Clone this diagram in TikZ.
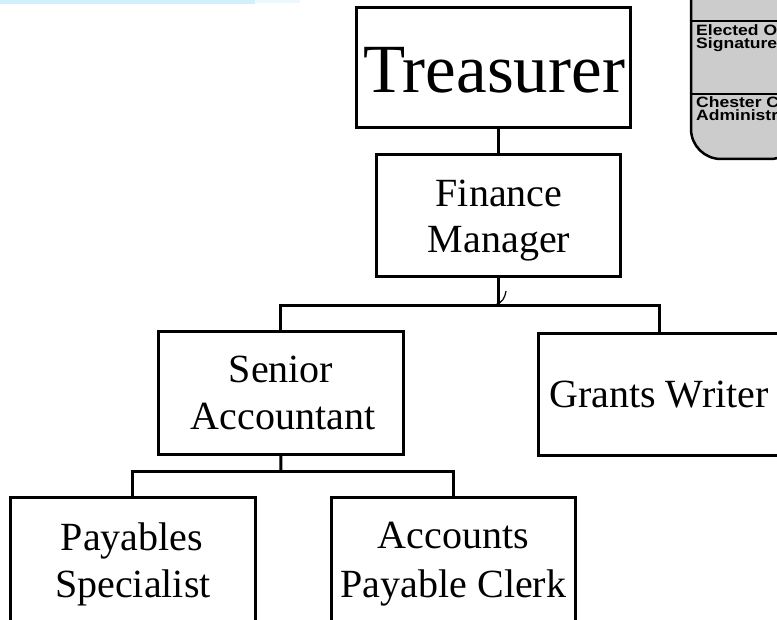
\documentclass[tikz,border=0pt]{standalone}
\usepackage{fontspec}
\setmainfont{Liberation Serif}
\newfontfamily\panelfont{Liberation Sans}
\begin{document}
\begin{tikzpicture}[x=1pt,y=-1pt,
  box/.style={draw=black, line width=3pt, fill=white, rectangle, inner sep=0pt},
  conn/.style={draw=black, line width=3pt},
  lbl/.style={anchor=base, inner sep=0pt, font=\fontsize{40}{47}\selectfont},
  biglbl/.style={anchor=base, inner sep=0pt, font=\fontsize{69}{80}\selectfont},
  plbl/.style={anchor=base west, inner sep=0pt, xscale=1.17,
               font=\panelfont\bfseries\fontsize{15}{15}\selectfont},
  panelline/.style={draw=black, line width=2pt}]
\useasboundingbox (0,0) rectangle (777,620);
\clip (0,0) rectangle (777,620);
\fill[white] (0,0) rectangle (777,620);

% faint strip along the top left edge
\fill[cyan!18] (0,0) rectangle (255,4);
\fill[cyan!8] (255,0) rectangle (300,3);

% side panel, top right, with a rounded lower left corner
\filldraw[fill=gray!40, draw=black, line width=2.5pt]
  (691,-10) {[rounded corners=30pt] -- (691,159) -- (800,159)} -- (800,-10) -- cycle;
\coordinate (pl1a) at (691,21);  \coordinate (pl1b) at (800,21);
\coordinate (pl2a) at (691,94);  \coordinate (pl2b) at (800,94);
\draw[panelline] (pl1a) -- (pl1b);
\draw[panelline] (pl2a) -- (pl2b);
\node[plbl] (p1) at (696,36) {Elected O};
\node[plbl] (p2) at (696,49) {Signature};
\node[plbl] (p3) at (696,108) {Chester C};
\node[plbl] (p4) at (696,120.5) {Administr};

% boxes
\node[box, minimum width=273.5pt, minimum height=120pt] (tre) at (493.25,67.5) {};
\node[box, minimum width=243.5pt, minimum height=122pt] (fm)  at (498.25,215.5) {};
\node[box, minimum width=244.5pt, minimum height=122.5pt] (sa) at (280.75,392.75) {};
\node[box, minimum width=261.5pt, minimum height=121.5pt] (gw) at (669.25,394.25) {};
\node[box, minimum width=244.5pt, minimum height=142.5pt] (ps) at (132.75,568.75) {};
\node[box, minimum width=244pt, minimum height=142.5pt] (apc) at (453,568.75) {};

% labels
\node[biglbl] (tret) at (494,93) {Treasurer};
\node[lbl] (fm1) at (499,207) {Finance};
\node[lbl] (fm2) at (499,253) {Manager};
\node[lbl] (sa1) at (281,383) {Senior};
\node[lbl] (sa2) at (283,430) {Accountant};
\node[lbl] (gwt1) at (659,408) {Grants Writer};
\node[lbl] (ps1) at (132,550) {Payables};
\node[lbl] (ps2) at (133,597) {Specialist};
\node[lbl] (apc1) at (453.5,548) {Accounts};
\node[lbl] (apc2) at (453.5,597) {Payable Clerk};

% connectors
\coordinate (bus1) at (498.25,305.5);
\coordinate (gwtop) at (659.5,333.5);
\coordinate (bus2) at (281,471);
\draw[conn] (tre.south -| fm.north) -- (fm.north);
\draw[conn] (fm.south) -- (bus1);
\draw[conn] (sa.north) |- (bus1) -| (gwtop);
\draw[conn] (sa.south) -- (bus2);
\draw[conn] (ps.north) |- (bus2) -| (apc.north);

% small hook mark at the junction
\coordinate (hk1) at (506,291);
\coordinate (hk2) at (495,305);
\draw[line width=1.2pt] (hk1) .. controls (505,298) and (502,303) .. (hk2);
\end{tikzpicture}
\end{document}
